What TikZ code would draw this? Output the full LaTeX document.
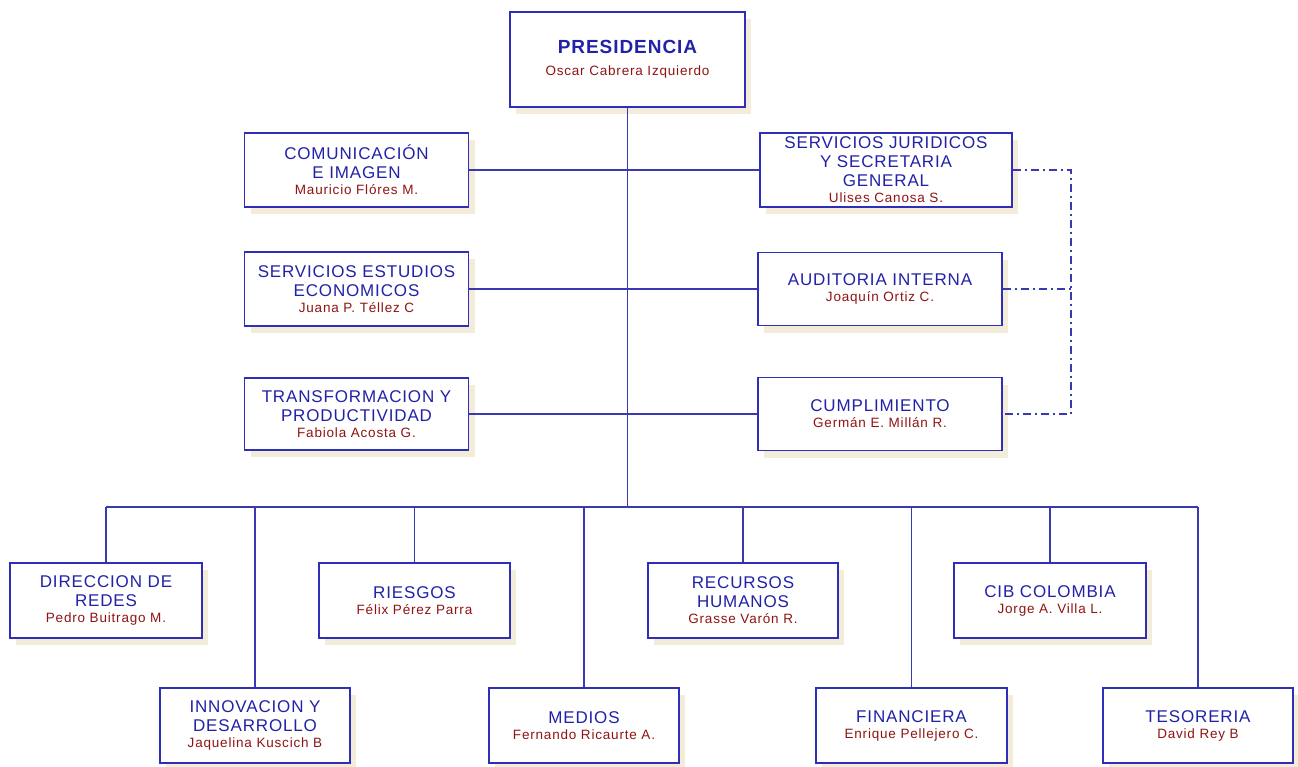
\documentclass[tikz,border=0pt]{standalone}
\usepackage{fontspec}
\setmainfont{Liberation Sans}
\newfontfamily\titlef[LetterSpace=5]{Liberation Sans}
\newfontfamily\namef[LetterSpace=6]{Liberation Sans}
\usetikzlibrary{shadows}
\definecolor{boxblue}{HTML}{2E2EB8}
\definecolor{lineblue}{HTML}{3A3AB0}
\definecolor{txtblue}{HTML}{2222A8}
\definecolor{namered}{HTML}{8E1414}
\definecolor{shadowc}{HTML}{F3ECD9}
\newcommand{\nm}[1]{\\[-3pt]{\namef\fontsize{13.5}{15}\selectfont\color{namered}#1}}
\tikzset{
  orgbox/.style={draw=boxblue, line width=1.6pt, fill=white, align=center, inner sep=0pt,
    text=txtblue, font=\titlef\fontsize{17}{19}\selectfont,
    drop shadow={shadow xshift=6pt, shadow yshift=-7pt, fill=shadowc, opacity=1}},
  conn/.style={draw=lineblue, line width=1.4pt},
  ddash/.style={conn, dash pattern=on 8pt off 4pt on 2pt off 4pt}
}
\begin{document}
\begin{tikzpicture}[x=1pt, y=-1pt]
\useasboundingbox (0,0) rectangle (1298,766);
\fill[white] (0,0) rectangle (1298,766);
% top
\node[orgbox, minimum width=235pt, minimum height=95pt] (pres) at (627.5,59.5)
  {{\titlef\bfseries\fontsize{19}{22}\selectfont PRESIDENCIA}\\[3pt]{\namef\fontsize{13.5}{15}\selectfont\color{namered}Oscar Cabrera Izquierdo}};
% left column
\node[orgbox, minimum width=224pt, minimum height=74pt] (com) at (356.5,170)
  {COMUNICACIÓN\\E IMAGEN\nm{Mauricio Flóres M.}};
\node[orgbox, minimum width=224pt, minimum height=74pt] (see) at (356.5,289)
  {SERVICIOS ESTUDIOS\\ECONOMICOS\nm{Juana P. Téllez C}};
\node[orgbox, minimum width=224pt, minimum height=72pt] (tra) at (356.5,414)
  {TRANSFORMACION Y\\PRODUCTIVIDAD\nm{Fabiola Acosta G.}};
% right column
\node[orgbox, minimum width=252pt, minimum height=74pt] (sj) at (886,170)
  {SERVICIOS JURIDICOS\\Y SECRETARIA\\GENERAL\nm{Ulises Canosa S.}};
\node[orgbox, minimum width=244pt, minimum height=73pt] (aud) at (880,289)
  {AUDITORIA INTERNA\nm{Joaquín Ortiz C.}};
\node[orgbox, minimum width=244pt, minimum height=73pt] (cum) at (880,414)
  {CUMPLIMIENTO\nm{Germán E. Millán R.}};
% bottom row upper
\node[orgbox, minimum width=192pt, minimum height=75pt] (dir) at (106,600.5)
  {DIRECCION DE\\REDES\nm{Pedro Buitrago M.}};
\node[orgbox, minimum width=191pt, minimum height=75pt] (rie) at (414.5,600.5)
  {RIESGOS\nm{Félix Pérez Parra}};
\node[orgbox, minimum width=190pt, minimum height=75pt] (rec) at (743,600.5)
  {RECURSOS\\HUMANOS\nm{Grasse Varón R.}};
\node[orgbox, minimum width=192pt, minimum height=75pt] (cib) at (1050,600.5)
  {CIB COLOMBIA\nm{Jorge A. Villa L.}};
% bottom row lower
\node[orgbox, minimum width=190pt, minimum height=75pt] (inn) at (255,725.5)
  {INNOVACION Y\\DESARROLLO\nm{Jaquelina Kuscich B}};
\node[orgbox, minimum width=190pt, minimum height=75pt] (med) at (584,725.5)
  {MEDIOS\nm{Fernando Ricaurte A.}};
\node[orgbox, minimum width=191pt, minimum height=75pt] (fin) at (911.5,725.5)
  {FINANCIERA\nm{Enrique Pellejero C.}};
\node[orgbox, minimum width=190pt, minimum height=75pt] (tes) at (1198,725.5)
  {TESORERIA\nm{David Rey B}};
% connectors
\coordinate (bus) at (627.5,507);
\coordinate (busL) at (106,507);
\coordinate (busR) at (1198,507);
\draw[conn] (pres.south) -- (bus);
\draw[conn] (com.east) -- (sj.west);
\draw[conn] (see.east) -- (aud.west);
\draw[conn] (tra.east) -- (cum.west);
\draw[conn] (busL) -- (busR);
\foreach \n in {dir,inn,rie,med,rec,fin,cib,tes}{
  \draw[conn] (\n.north) -- (\n.north |- bus);
}
\coordinate (ddt) at (1071,170);
\coordinate (ddb) at (1071,414);
\draw[ddash] (sj.east) -- (ddt) -- (ddb) -- (cum.east);
\draw[ddash] (aud.east) -- (aud.east -| ddt);
\end{tikzpicture}
\end{document}
